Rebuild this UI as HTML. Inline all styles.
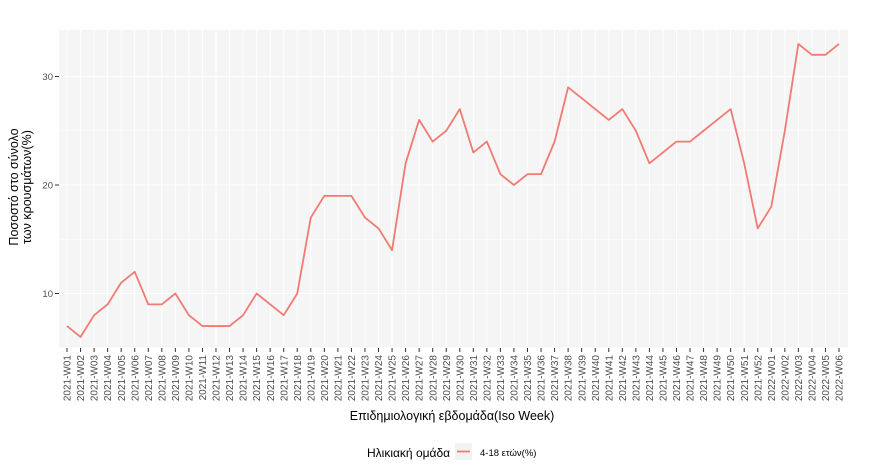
<!DOCTYPE html>
<html><head><meta charset="utf-8"><style>
html,body{margin:0;padding:0;background:#fff;}
svg{display:block;font-family:"Liberation Sans",sans-serif;}
</style></head><body>
<svg id="s" width="873" height="474" xmlns="http://www.w3.org/2000/svg">
<rect x="59" y="30" width="789" height="318" fill="#F5F5F5"/>
<g id="grid"></g>
<g id="ticks"></g>
<polyline id="line" fill="none" stroke="#F07B72" stroke-width="1.8" stroke-linejoin="round"/>
<text x="452" y="420" font-size="12.5" text-anchor="middle" fill="#000">Επιδημιολογική εβδομάδα(Iso Week)</text>
<text transform="translate(18,187) rotate(-90)" font-size="12.5" text-anchor="middle" fill="#000">Ποσοστό στο σύνολο</text>
<text transform="translate(31,187) rotate(-90)" font-size="12.5" text-anchor="middle" fill="#000">των κρουσμάτων(%)</text>
<text x="367" y="457" font-size="12" fill="#000">Ηλικιακή ομάδα</text>
<rect x="455" y="443" width="17" height="17" fill="#F2F2F2"/>
<line x1="457" y1="451.5" x2="470" y2="451.5" stroke="#F07B72" stroke-width="1.8"/>
<text x="480" y="456" font-size="9.5" fill="#000">4-18 ετών(%)</text>
</svg>
<script>
const v=[7,6,8,9,11,12,9,9,10,8,7,7,7,8,10,9,8,10,17,19,19,19,17,16,14,22,26,24,25,27,23,24,21,20,21,21,24,29,28,27,26,27,25,22,23,24,24,25,26,27,22,16,18,25,33,32,32,33];
const X=i=>67+i*(772/57), Y=y=>402-y*10.85;
let g='',t='';
for(const y of [5,15,25]) g+=`<line x1="59" x2="848" y1="${Y(y)}" y2="${Y(y)}" stroke="#fff" stroke-width="0.5"/>`;
for(const y of [10,20,30]){g+=`<line x1="59" x2="848" y1="${Y(y)}" y2="${Y(y)}" stroke="#fff" stroke-width="1"/>`;
t+=`<line x1="55" x2="59" y1="${Y(y)}" y2="${Y(y)}" stroke="#333" stroke-width="1"/><text x="53" y="${Y(y)+3.5}" font-size="9.5" fill="#4D4D4D" text-anchor="end">${y}</text>`;}
const labs=[];for(let i=1;i<=52;i++)labs.push('2021-W'+String(i).padStart(2,'0'));for(let i=1;i<=6;i++)labs.push('2022-W0'+i);
labs.forEach((l,i)=>{const x=X(i);g+=`<line x1="${x}" x2="${x}" y1="30" y2="348" stroke="#fff" stroke-width="1"/>`;
t+=`<line x1="${x}" x2="${x}" y1="348" y2="352" stroke="#333" stroke-width="1"/><text transform="translate(${x+3.6},355) rotate(-90)" font-size="10" fill="#4D4D4D" text-anchor="end">${l}</text>`;});
document.getElementById('grid').innerHTML=g;document.getElementById('ticks').innerHTML=t;
document.getElementById('line').setAttribute('points',v.map((y,i)=>X(i)+','+Y(y)).join(' '));
</script>
</body></html>
